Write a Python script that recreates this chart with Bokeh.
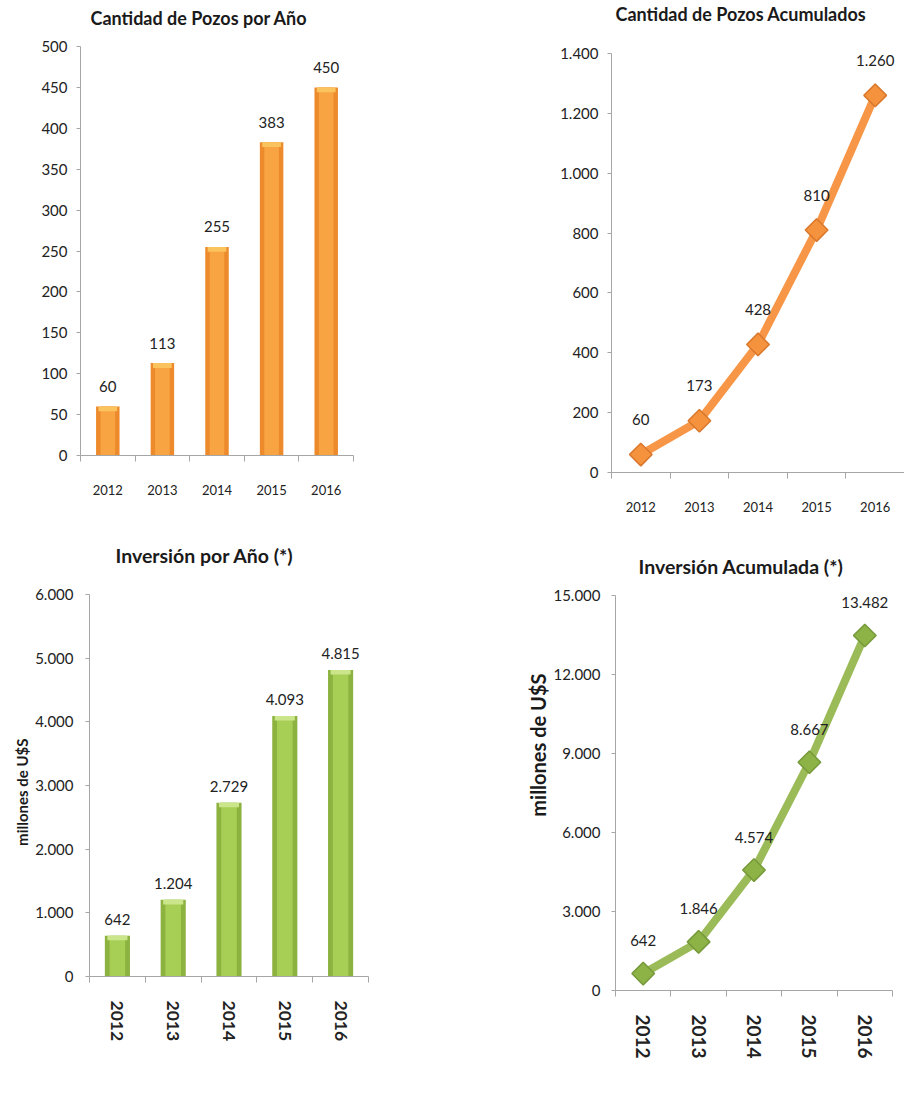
import math
from bokeh.plotting import figure
from bokeh.layouts import column, row
from bokeh.models import Range1d, FixedTicker, Title, Spacer
from bokeh.embed import file_html
from bokeh.resources import INLINE
from bokeh.core.properties import value

# ---------------- data ----------------
years = ["2012", "2013", "2014", "2015", "2016"]
pozos_por_anio = [60, 113, 255, 383, 450]
pozos_acumulados = [60, 173, 428, 810, 1260]
inversion_por_anio = [642, 1204, 2729, 4093, 4815]
inversion_acumulada = [642, 1846, 4574, 8667, 13482]

ticks_pozos_anio = [0, 50, 100, 150, 200, 250, 300, 350, 400, 450, 500]
ticks_pozos_acum = [0, 200, 400, 600, 800, 1000, 1200, 1400]
ticks_inv_anio = [0, 1000, 2000, 3000, 4000, 5000, 6000]
ticks_inv_acum = [0, 3000, 6000, 9000, 12000, 15000]

titles = ["Cantidad de Pozos por Año", "Cantidad de Pozos Acumulados",
          "Inversión por Año (*)", "Inversión Acumulada (*)"]
y_axis_title = "millones de U$S"

FONT = "Lato"
TXT = "#222222"
AXIS = "#A6A6A6"


def fmt(v):
    return f"{v:,}".replace(",", ".")


xs = [i + 1 for i in range(len(years))]


def make_fig(width, height, left, right, top, bottom, ymax, yticks,
             title, title_size, title_offset, title_gap,
             ylab_standoff, xlab_standoff, vertical, xlab_size):
    p = figure(width=width, height=height,
               min_border_left=left, min_border_right=right,
               min_border_top=top, min_border_bottom=bottom,
               x_range=Range1d(0.5, 5.5), y_range=Range1d(0, ymax),
               output_backend="svg", toolbar_location=None, title=None)
    p.outline_line_color = None
    p.xgrid.visible = False
    p.ygrid.visible = False
    # spacer title (closest to the frame) then the real title
    p.add_layout(Title(text="\u00a0", text_font_size="1px", standoff=title_gap), "above")
    p.add_layout(Title(text=title, align="left", offset=title_offset, standoff=0,
                       text_font=FONT, text_font_size=title_size,
                       text_font_style="bold", text_color="#1a1a1a"), "above")

    xa = p.xaxis[0]
    ya = p.yaxis[0]
    xa.ticker = FixedTicker(ticks=xs, minor_ticks=[x - 0.5 for x in xs] + [xs[-1] + 0.5])
    xa.major_label_overrides = {x: y for x, y in zip(xs, years)}
    ya.ticker = FixedTicker(ticks=yticks, minor_ticks=[])
    ya.major_label_overrides = {t: fmt(t) for t in yticks}
    for ax in (xa, ya):
        ax.axis_line_color = AXIS
        ax.major_tick_line_color = AXIS
        ax.minor_tick_line_color = AXIS
        ax.major_label_text_font = FONT
        ax.major_label_text_color = TXT
        ax.major_label_text_font_size = "15px"
    xa.major_tick_out = 0
    xa.major_tick_in = 0
    xa.minor_tick_out = 6
    xa.minor_tick_in = 0
    xa.major_label_standoff = xlab_standoff
    xa.major_label_text_font_size = xlab_size
    ya.major_tick_out = 4
    ya.major_tick_in = 0
    ya.minor_tick_out = 0
    ya.minor_tick_in = 0
    ya.major_label_standoff = ylab_standoff
    if vertical:
        xa.major_label_orientation = "vertical"
        xa.major_label_text_font_style = "bold"
    return p


def add_bars(p, vals, ymax, width, dark, light, cap, label_off):
    p.vbar(x=xs, top=vals, width=width, fill_color=dark, line_color=None)
    p.vbar(x=xs, top=vals, width=width * 0.62, fill_color=light, line_color=None)
    p.vbar(x=xs, top=vals, bottom=[v - ymax * 0.012 for v in vals], width=width * 0.8,
           fill_color=cap, line_color=None)
    p.text(x=xs, y=vals, text=[fmt(v) for v in vals], text_font=value(FONT),
           text_font_size="15px", text_color=TXT, text_align="center",
           text_baseline="middle", y_offset=-label_off)


def add_line(p, vals, color, mfill, mline, label_off):
    p.line(x=xs, y=vals, line_width=8, line_color=color)
    p.scatter(x=xs, y=vals, marker="square", angle=math.pi / 4, size=16,
              fill_color=mfill, line_color=mline, line_width=1.5)
    p.text(x=xs, y=vals, text=[fmt(v) for v in vals], text_font=value(FONT),
           text_font_size="15px", text_color=TXT, text_align="center",
           text_baseline="middle", y_offset=-label_off)


def add_ylabel(p, size, offset, standoff):
    p.add_layout(Title(text=y_axis_title, align="right", offset=offset, standoff=standoff,
                       text_font=FONT, text_font_size=size, text_font_style="bold",
                       text_color="#1a1a1a"), "left")


ORANGE_DARK = "#EC8A2C"
ORANGE_LIGHT = "#F8A443"
ORANGE_CAP = "#FBC35E"
GREEN_DARK = "#8CB23F"
GREEN_LIGHT = "#A8CF55"
GREEN_CAP = "#CBE58A"

p1 = make_fig(452, 536, 80, 99, 46, 81, 500, ticks_pozos_anio,
              titles[0], "18px", 10, 15, 9, 23, False, "13px")
add_bars(p1, pozos_por_anio, 500, 0.43, ORANGE_DARK, ORANGE_LIGHT, ORANGE_CAP, 20)

p2 = make_fig(452, 536, 159, 0, 53, 64, 1400, ticks_pozos_acum,
              titles[1], "18px", 4, 26, 9, 23, False, "13px")
add_line(p2, pozos_acumulados, "#F79646", "#F5923E", "#D9772C", 35)

p3 = make_fig(452, 560, 89, 84, 57, 121, 6000, ticks_inv_anio,
              titles[2], "19.5px", 26, 25, 12, 18, True, "17.5px")
add_bars(p3, inversion_por_anio, 6000, 0.45, GREEN_DARK, GREEN_LIGHT, GREEN_CAP, 16)
add_ylabel(p3, "15px", 144, 4)

p4 = make_fig(452, 560, 163, 12, 59, 106, 15000, ticks_inv_acum,
              titles[3], "19.5px", 23, 15, 11, 18, True, "19px")
add_line(p4, inversion_acumulada, "#9BBB59", "#8DB246", "#76993A", 33)
add_ylabel(p4, "20px", 78, 2)

layout = column(row(column(p1), column(p2)),
                row(column(Spacer(height=1), p3), column(p4)))

with open("out.html", "w") as f:
    f.write(file_html(layout, INLINE))
